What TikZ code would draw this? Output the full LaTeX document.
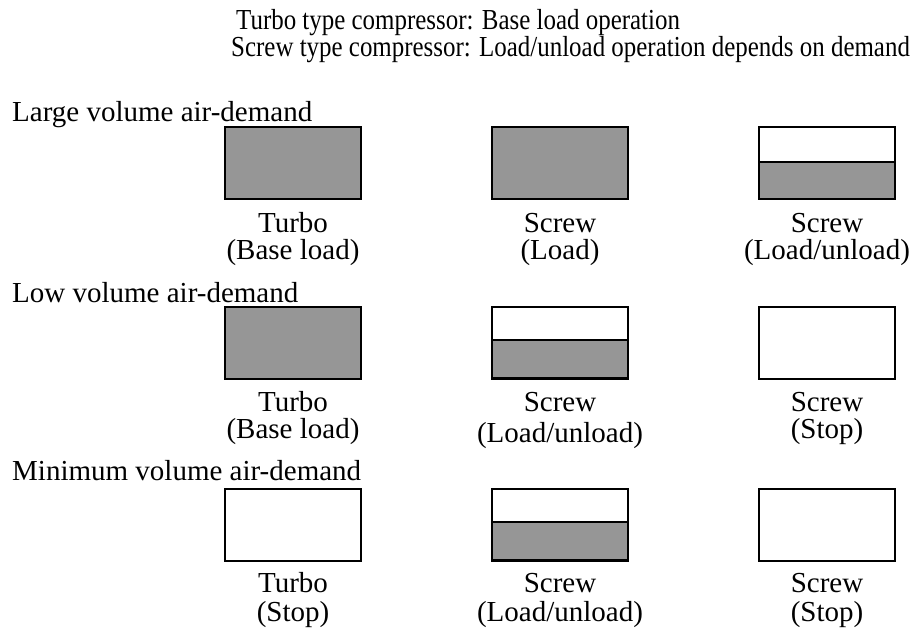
\documentclass[tikz,border=0pt]{standalone}
\usepackage{fontspec}
\setmainfont{Liberation Serif}
\definecolor{loadgrey}{HTML}{969696}
\begin{document}
\begin{tikzpicture}[x=1pt,y=-1pt,
  box/.style={draw=black, line width=1.3pt, minimum width=136pt, minimum height=72pt,
    inner sep=0pt, outer sep=0pt, anchor=north west},
  fullbox/.style={box, fill=loadgrey},
  emptybox/.style={box, fill=white},
  halfbox/.style={box, fill=white, path picture={
    \fill[loadgrey] (path picture bounding box.south west) rectangle ([yshift=#1]path picture bounding box.south east);
    \draw[line width=1.3pt] ([yshift=#1]path picture bounding box.south west) -- ([yshift=#1]path picture bounding box.south east);}},
  halfboxb/.style={halfbox=#1, append after command={
    ([yshift=2pt]\tikzlastnode.south west) edge[line width=0.8pt] ([yshift=2pt]\tikzlastnode.south east)}},
  txtbase/.style={font=\fontsize{29}{31}\selectfont, inner sep=0pt, text height=19pt, text depth=5pt},
  lbl/.style={txtbase, anchor=base},
  head/.style={txtbase, anchor=base west},
  sect/.style={txtbase, anchor=base west}]
\useasboundingbox[fill=white] (0,0) rectangle (911,638);

% header
\node[head] (h1) at (236,29) {\scalebox{0.86}[1]{Turbo type compressor: Base load operation}};
\node[head] (h2) at (231,56) {\scalebox{0.86}[1]{Screw type compressor: Load/unload operation depends on demand}};

% row 1
\node[sect] (s1) at (12,121) {Large volume air-demand};
\node[fullbox] (b11) at (225,127) {};
\node[fullbox] (b12) at (492,127) {};
\node[halfbox=37pt] (b13) at (759,127) {};
\node[lbl] (t11) at (293,232) {Turbo};
\node[lbl] (u11) at (293,259) {(Base load)};
\node[lbl] (t12) at (560,232) {Screw};
\node[lbl] (u12) at (560,259) {(Load)};
\node[lbl] (t13) at (827,232) {Screw};
\node[lbl] (u13) at (827,259) {(Load/unload)};

% row 2
\node[sect] (s2) at (12,302) {Low volume air-demand};
\node[fullbox] (b21) at (225,307) {};
\node[halfboxb=39pt] (b22) at (492,307) {};
\node[emptybox] (b23) at (759,307) {};
\node[lbl] (t21) at (293,411) {Turbo};
\node[lbl] (u21) at (293,438) {(Base load)};
\node[lbl] (t22) at (560,411) {Screw};
\node[lbl] (u22) at (560,442) {(Load/unload)};
\node[lbl] (t23) at (827,411) {Screw};
\node[lbl] (u23) at (827,438) {(Stop)};

% row 3
\node[sect] (s3) at (12,480) {Minimum volume air-demand};
\node[emptybox] (b31) at (225,489) {};
\node[halfboxb=39pt] (b32) at (492,489) {};
\node[emptybox] (b33) at (759,489) {};
\node[lbl] (t31) at (293,592) {Turbo};
\node[lbl] (u31) at (293,621) {(Stop)};
\node[lbl] (t32) at (560,592) {Screw};
\node[lbl] (u32) at (560,621) {(Load/unload)};
\node[lbl] (t33) at (827,592) {Screw};
\node[lbl] (u33) at (827,621) {(Stop)};
\end{tikzpicture}
\end{document}
